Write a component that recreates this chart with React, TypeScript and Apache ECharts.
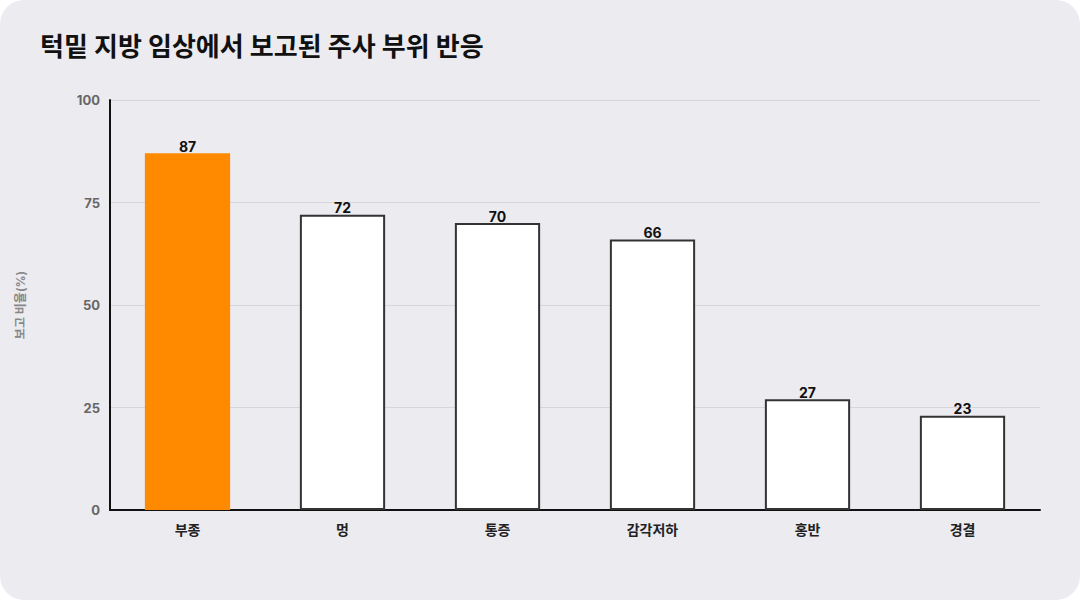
import React, { useEffect, useRef } from "react";
import * as echarts from "echarts";

const categories = ["부종", "멍", "통증", "감각저하", "홍반", "경결"];
const values = [87, 72, 70, 66, 27, 23];
const yTicks = [0, 25, 50, 75, 100];
const title = "턱밑 지방 임상에서 보고된 주사 부위 반응";
const yName = "보고 비율(%)";

const FONT = "Inter, 'Noto Sans CJK KR', sans-serif";

export default function App() {
  const ref = useRef<HTMLDivElement>(null);
  useEffect(() => {
    if (!ref.current) return;
    const chart = echarts.init(ref.current, undefined, { renderer: "svg" });
    chart.setOption({
      animation: false,
      backgroundColor: "transparent",
      title: {
        text: title,
        left: 35,
        top: 28,
        textStyle: { fontFamily: FONT, fontSize: 26, fontWeight: "bold", color: "#111" },
      },
      grid: { left: 110, right: 40, top: 100, bottom: 90 },
      xAxis: {
        type: "category",
        data: categories,
        axisLine: { lineStyle: { color: "#111", width: 2 } },
        axisTick: { show: false },
        axisLabel: { fontFamily: FONT, fontSize: 14, fontWeight: "bold", color: "#222", margin: 12 },
      },
      yAxis: {
        type: "value",
        min: yTicks[0],
        max: yTicks[yTicks.length - 1],
        interval: 25,
        name: yName,
        nameLocation: "middle",
        nameGap: 84,
        nameTextStyle: { fontFamily: FONT, fontSize: 12, fontWeight: "bold", color: "#888" },
        axisLine: { show: true, lineStyle: { color: "#111", width: 2 } },
        axisTick: { show: false },
        splitLine: { lineStyle: { color: "#d6d5db", width: 1 } },
        axisLabel: { fontFamily: FONT, fontSize: 13, fontWeight: "bold", color: "#666", margin: 10 },
      },
      series: [
        {
          type: "bar",
          barWidth: "55%",
          data: values.map((v, i) => ({
            value: v,
            itemStyle:
              i === 0
                ? { color: "#FF8A00", borderWidth: 0 }
                : { color: "#ffffff", borderColor: "#333", borderWidth: 2 },
          })),
          label: {
            show: true,
            position: "top",
            distance: 0,
            fontFamily: FONT,
            fontSize: 14,
            fontWeight: "bold",
            color: "#111",
          },
        },
      ],
    });
    return () => chart.dispose();
  }, []);
  return (
    <div
      style={{
        position: "fixed",
        left: 0,
        top: 0,
        width: 1080,
        height: 600,
        background: "#ECEBF0",
        borderRadius: 24,
        overflow: "hidden",
      }}
    >
      <div ref={ref} style={{ width: 1080, height: 600 }} />
    </div>
  );
}
